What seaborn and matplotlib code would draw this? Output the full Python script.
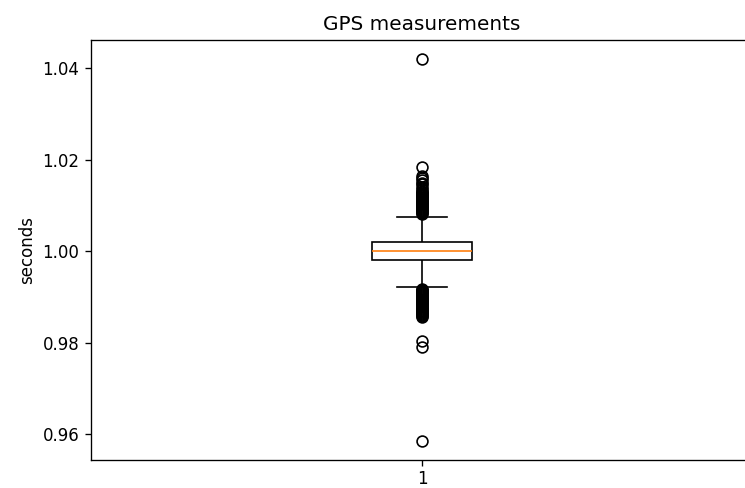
import numpy as np
import pandas as pd
import matplotlib
matplotlib.use("Agg")
import matplotlib.pyplot as plt
import seaborn as sns

# Central measurements (value, how many times it was recorded)
core_values = [0.9921, 0.9980, 1.0000, 1.0020, 1.0074]
core_counts = [1, 37, 1, 37, 1]

# Readings far from the bulk
high_readings = [1.0420, 1.0185, 1.0165, 1.0160, 1.0155, 1.0150, 1.0146, 1.0140, 1.0136,
                 1.0132, 1.0130, 1.0128, 1.0126, 1.0124, 1.0122, 1.0120, 1.0118, 1.0116,
                 1.0114, 1.0112, 1.0110, 1.0108, 1.0106, 1.0104, 1.0102, 1.0100, 1.0098,
                 1.0096, 1.0094, 1.0092, 1.0090, 1.0088, 1.0086, 1.0084, 1.0082]
low_readings = [0.9918, 0.9916, 0.9914, 0.9912, 0.9910, 0.9908, 0.9906, 0.9904, 0.9902,
                0.9900, 0.9898, 0.9896, 0.9894, 0.9892, 0.9890, 0.9888, 0.9886, 0.9884,
                0.9882, 0.9880, 0.9878, 0.9876, 0.9874, 0.9872, 0.9870, 0.9868, 0.9866,
                0.9864, 0.9862, 0.9860, 0.9858, 0.9855, 0.9804, 0.9791, 0.9585]

seconds = np.concatenate([np.repeat(core_values, core_counts), high_readings, low_readings])
df = pd.DataFrame({"run": "1", "seconds": seconds})

dpi = 120
fig = plt.figure(figsize=(745 / dpi, 488 / dpi), dpi=dpi)
ax = fig.add_axes([0.1221, 0.0574, 0.8886, 0.8607])

sns.boxplot(
    data=df, x="run", y="seconds", ax=ax,
    width=0.15, color="white", linecolor="black", linewidth=1.0,
    medianprops=dict(color="#ff7f0e", linewidth=1.0),
    flierprops=dict(marker="o", markerfacecolor="none",
                    markeredgecolor="black", markersize=6.5),
)

ax.set_xlim(-0.5, 0.5)
ax.set_xlabel("")
ax.set_ylabel("seconds")
ax.set_title("GPS measurements")
ax.spines["right"].set_visible(False)
ax.tick_params(axis="x", pad=2.5)

fig.savefig("out.png", dpi=dpi)
